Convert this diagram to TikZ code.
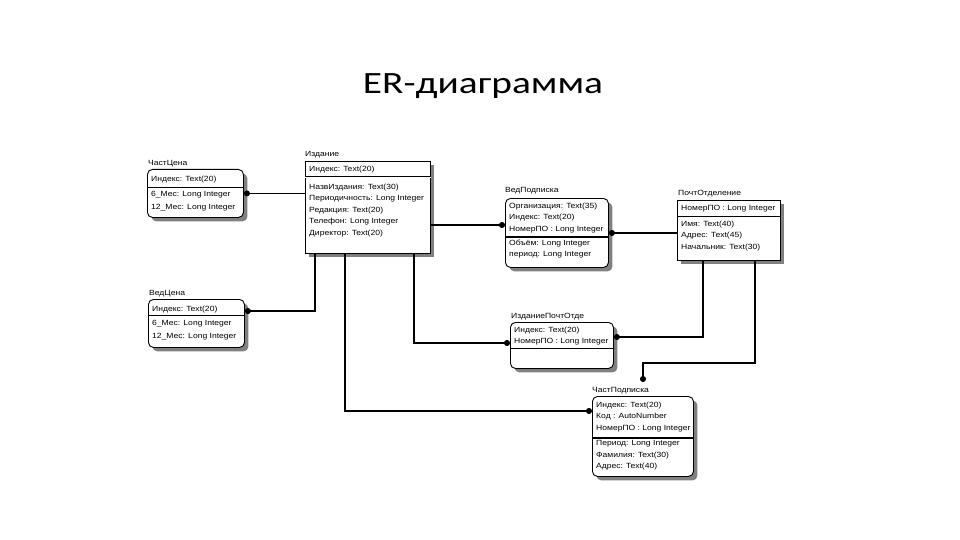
\documentclass[tikz,border=0pt]{standalone}
\usepackage{fontspec}
\setmainfont{Liberation Sans}[FakeStretch=1.14]
\newfontfamily\titlefont{Carlito}[FakeStretch=1.27]
\usetikzlibrary{arrows.meta,shadows}

\begin{document}
\begin{tikzpicture}[x=1pt, y=-1pt]
	\tikzset{
		entity/.style = {draw, line width=0.9pt, anchor=north west, inner sep=0pt,
			drop shadow={shadow xshift=4pt, shadow yshift=-4pt, fill=black!50, opacity=1}, fill=white},
		roundent/.style = {entity, rounded corners=5pt},
		ename/.style = {anchor=base west, inner sep=0pt, font=\fontsize{7.5}{9}\selectfont},
		fields/.style = {anchor=north west, inner sep=0pt, align=left, font=\fontsize{7.5}{11.5}\selectfont},
		sep/.style = {line width=0.7pt},
		keysep/.style = {line width=1.4pt},
		rel/.style = {line width=1.1pt},
		startdot/.style = {rel, {Circle[length=6pt]}-},
		enddot/.style = {rel, -{Circle[length=6pt]}},
		title/.style = {font=\titlefont\fontsize{31}{36}\selectfont}
	}
	\useasboundingbox (0,0) rectangle (960,540);

	\node[title] (ttl) at (483,86) {ER-диаграмма};

	% ЧастЦена
	\node[roundent, minimum width=96pt, minimum height=48pt] (chc) at (147,169) {};
	\node[ename] (chc-n) at (148,165) {ЧастЦена};
	\draw[sep] ([yshift=-18pt]chc.north west) -- ([yshift=-18pt]chc.north east);
	\node[fields] (chc-k) at (151,175.5) {Индекс: Text(20)};
	\node[fields, font=\fontsize{7.5}{13}\selectfont] (chc-a) at (151,191.5) {6\_Мес: Long Integer\\12\_Мес: Long Integer};

	% Издание
	\node[entity, minimum width=125pt, minimum height=92pt] (izd) at (305,161) {};
	\node[ename] (izd-n) at (305,157) {Издание};
	\draw[keysep, double, double distance=0.8pt, line width=0.6pt] ([yshift=-16pt]izd.north west) -- ([yshift=-16pt]izd.north east);
	\node[fields] (izd-k) at (309,165.5) {Индекс: Text(20)};
	\node[fields] (izd-a) at (309,183.5) {НазвИздания: Text(30)\\Периодичность: Long Integer\\Редакция: Text(20)\\Телефон: Long Integer\\Директор: Text(20)};

	% ВедПодписка
	\node[roundent, minimum width=103pt, minimum height=69pt] (vedp) at (505,198) {};
	\node[ename] (vedp-n) at (505,193) {ВедПодписка};
	\draw[keysep] ([yshift=-39pt]vedp.north west) -- ([yshift=-39pt]vedp.north east);
	\node[fields] (vedp-k) at (509,202.5) {Организация: Text(35)\\Индекс: Text(20)\\НомерПО : Long Integer};
	\node[fields] (vedp-a) at (509,239.5) {Объём: Long Integer\\период: Long Integer};

	% ПочтОтделение
	\node[entity, minimum width=103pt, minimum height=60pt] (pochta) at (677,200) {};
	\node[ename] (pochta-n) at (678,196) {ПочтОтделение};
	\draw[sep] ([yshift=-16pt]pochta.north west) -- ([yshift=-16pt]pochta.north east);
	\node[fields] (pochta-k) at (681,205.5) {НомерПО : Long Integer};
	\node[fields] (pochta-a) at (681,220.5) {Имя: Text(40)\\Адрес: Text(45)\\Начальник: Text(30)};

	% ВедЦена
	\node[roundent, minimum width=96pt, minimum height=48pt] (vedc) at (148,299) {};
	\node[ename] (vedc-n) at (149,295) {ВедЦена};
	\draw[sep] ([yshift=-16pt]vedc.north west) -- ([yshift=-16pt]vedc.north east);
	\node[fields] (vedc-k) at (152,305.5) {Индекс: Text(20)};
	\node[fields, font=\fontsize{7.5}{13}\selectfont] (vedc-a) at (152,320.5) {6\_Мес: Long Integer\\12\_Мес: Long Integer};

	% ИзданиеПочтОтде
	\node[roundent, minimum width=103pt, minimum height=46pt] (ipo) at (510,322) {};
	\node[ename] (ipo-n) at (511,318) {ИзданиеПочтОтде};
	\draw[sep] ([yshift=-26pt]ipo.north west) -- ([yshift=-26pt]ipo.north east);
	\node[fields] (ipo-k) at (514,326.5) {Индекс: Text(20)\\НомерПО : Long Integer};

	% ЧастПодписка
	\node[roundent, minimum width=101pt, minimum height=80pt] (chp) at (592,396) {};
	\node[ename] (chp-n) at (592,392) {ЧастПодписка};
	\draw[keysep] ([yshift=-42pt]chp.north west) -- ([yshift=-42pt]chp.north east);
	\node[fields] (chp-k) at (596,401.5) {Индекс: Text(20)\\Код : AutoNumber\\НомерПО : Long Integer};
	\node[fields] (chp-a) at (596,440.5) {Период: Long Integer\\Фамилия: Text(30)\\Адрес: Text(40)};

	% связи
	\draw[startdot] (chc.east) -- (chc.east -| izd.west);
	\draw[startdot] ([yshift=-12pt]vedc.north east) -| ([xshift=10pt]izd.south west);
	\draw[enddot] ([xshift=40pt]izd.south west) |- ([yshift=-15pt]chp.north west);
	\draw[enddot] ([xshift=109pt]izd.south west) |- ([yshift=-21pt]ipo.north west);
	\draw[enddot] ([yshift=-64pt]izd.north east) -- ([yshift=-27pt]vedp.north west);
	\draw[startdot] (vedp.east) -- (vedp.east -| pochta.west);
	\draw[startdot] ([yshift=-15pt]ipo.north east) -| ([xshift=26pt]pochta.south west);
	\draw[enddot] ([xshift=78pt]pochta.south west) |- ([xshift=51pt, yshift=33pt]chp.north west) -- ([xshift=51pt, yshift=14pt]chp.north west);
\end{tikzpicture}
\end{document}
